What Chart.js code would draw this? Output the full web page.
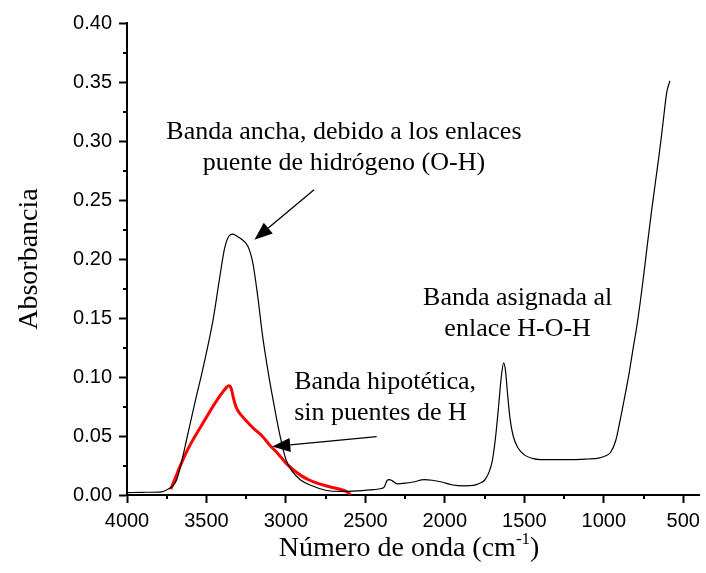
<!DOCTYPE html>
<html>
<head>
<meta charset="utf-8">
<script src="https://cdn.jsdelivr.net/npm/chart.js@4/dist/chart.umd.min.js"></script>
<style>
  html, body { margin: 0; padding: 0; background: #fff; }
  canvas { display: block; }
</style>
</head>
<body>
<canvas id="irChart" width="706" height="573"></canvas>
<script>
// IR spectrum (wavenumber in cm-1, absorbance)
const spectrumWn = [4000, 3900, 3780, 3740, 3710, 3690, 3660, 3620, 3573, 3521, 3459, 3417, 3386, 3358, 3335, 3310, 3281, 3240, 3208, 3177, 3146, 3104, 3084, 3040, 3000, 2960, 2910, 2840, 2750, 2650, 2550, 2450, 2400, 2380, 2365, 2350, 2330, 2300, 2250, 2200, 2130, 2080, 2020, 1950, 1880, 1820, 1780, 1750, 1720, 1700, 1680, 1660, 1645, 1630, 1618, 1605, 1590, 1570, 1540, 1500, 1450, 1400, 1300, 1200, 1100, 1040, 990, 958, 925, 896, 870, 844, 818, 792, 770, 750, 725, 698, 676, 656, 640, 625, 604, 584];
const spectrumAbs = [0.002, 0.0023, 0.0027, 0.005, 0.008, 0.012, 0.026, 0.050, 0.078, 0.108, 0.148, 0.184, 0.209, 0.2195, 0.221, 0.2195, 0.217, 0.211, 0.1966, 0.168, 0.134, 0.098, 0.083, 0.052, 0.030, 0.020, 0.013, 0.008, 0.004, 0.003, 0.0035, 0.0045, 0.0055, 0.007, 0.012, 0.013, 0.012, 0.0095, 0.010, 0.011, 0.013, 0.0125, 0.011, 0.0085, 0.0078, 0.0082, 0.010, 0.0125, 0.020, 0.030, 0.050, 0.078, 0.100, 0.112, 0.105, 0.085, 0.065, 0.050, 0.040, 0.034, 0.031, 0.030, 0.030, 0.030, 0.0305, 0.031, 0.033, 0.036, 0.046, 0.064, 0.082, 0.1005, 0.122, 0.143, 0.164, 0.185, 0.213, 0.242, 0.264, 0.284, 0.301, 0.318, 0.341, 0.351];

// hypothetical band without hydrogen bonds
const hypoWn = [3725, 3700, 3667, 3620, 3584, 3540, 3500, 3450, 3410, 3375, 3360, 3345, 3330, 3315, 3292, 3250, 3208, 3150, 3104, 3050, 3000, 2950, 2900, 2850, 2800, 2750, 2700, 2650, 2620, 2600, 2595];
const hypoAbs = [0.005, 0.013, 0.024, 0.038, 0.047, 0.057, 0.066, 0.077, 0.085, 0.091, 0.0925, 0.0905, 0.082, 0.075, 0.0695, 0.063, 0.057, 0.050, 0.0426, 0.035, 0.027, 0.021, 0.016, 0.0125, 0.0098, 0.0078, 0.0062, 0.0045, 0.003, 0.001, 0.0];

const xMajor = [4000, 3500, 3000, 2500, 2000, 1500, 1000, 500];
const xMinor = [3750, 3250, 2750, 2250, 1750, 1250, 750];
const yMajor = [0, 0.05, 0.10, 0.15, 0.20, 0.25, 0.30, 0.35, 0.40];
const yMinor = [0.025, 0.075, 0.125, 0.175, 0.225, 0.275, 0.325, 0.375];

const toPoints = (xs, ys) => xs.map((x, i) => ({ x: x, y: ys[i] }));

const tickFont = { family: 'Liberation Sans, Arial, sans-serif', size: 20 };
const serif = 'Liberation Serif, "Times New Roman", serif';

// notes and arrows, placed in data units
const notes = [
  { lines: ['Banda ancha, debido a los enlaces', 'puente de hidrógeno (O-H)'], x: 2635, y: 0.3079, align: 'center' },
  { lines: ['Banda asignada al', 'enlace H-O-H'], x: 1542, y: 0.1672, align: 'center' },
  { lines: ['Banda hipotética,', 'sin puentes de H'], x: 2948, y: 0.0952, align: 'left' }
];
const arrows = [
  { from: [2823, 0.2587], to: [3198, 0.2164] },
  { from: [2429, 0.0494], to: [3086, 0.0410] }
];

const extras = {
  id: 'extras',
  afterDraw(chart) {
    const { ctx, scales: { x, y }, chartArea } = chart;
    ctx.save();

    // minor ticks
    ctx.strokeStyle = '#000';
    ctx.lineWidth = 2;
    ctx.beginPath();
    xMinor.forEach(v => {
      const px = Math.round(x.getPixelForValue(v));
      ctx.moveTo(px, chartArea.bottom);
      ctx.lineTo(px, chartArea.bottom + 4);
    });
    yMinor.forEach(v => {
      const py = Math.round(y.getPixelForValue(v));
      ctx.moveTo(chartArea.left, py);
      ctx.lineTo(chartArea.left - 4, py);
    });
    ctx.stroke();

    // text notes
    ctx.fillStyle = '#000';
    ctx.font = '26px ' + serif;
    ctx.textBaseline = 'middle';
    notes.forEach(n => {
      ctx.textAlign = n.align;
      const px = x.getPixelForValue(n.x);
      const py = y.getPixelForValue(n.y);
      n.lines.forEach((t, i) => ctx.fillText(t, px, py + i * 31));
    });

    // arrows
    arrows.forEach(a => {
      const x0 = x.getPixelForValue(a.from[0]), y0 = y.getPixelForValue(a.from[1]);
      const x1 = x.getPixelForValue(a.to[0]), y1 = y.getPixelForValue(a.to[1]);
      const ang = Math.atan2(y1 - y0, x1 - x0);
      const len = 18, half = 7;
      const bx = x1 - len * Math.cos(ang), by = y1 - len * Math.sin(ang);
      ctx.lineWidth = 1.3;
      ctx.beginPath();
      ctx.moveTo(x0, y0);
      ctx.lineTo(bx, by);
      ctx.stroke();
      ctx.beginPath();
      ctx.moveTo(x1, y1);
      ctx.lineTo(bx + half * Math.sin(ang), by - half * Math.cos(ang));
      ctx.lineTo(bx - half * Math.sin(ang), by + half * Math.cos(ang));
      ctx.closePath();
      ctx.fill();
    });

    // x axis title with superscript
    const cx = (chartArea.left + chartArea.right) / 2 - 4;
    const ty = 549;
    const main = 'Número de onda (cm', sup = '-1', tail = ')';
    ctx.textAlign = 'left';
    ctx.font = '28px ' + serif;
    const wMain = ctx.measureText(main).width, wTail = ctx.measureText(tail).width;
    ctx.font = '17px ' + serif;
    const wSup = ctx.measureText(sup).width;
    let sx = cx - (wMain + wSup + wTail) / 2;
    ctx.font = '28px ' + serif;
    ctx.fillText(main, sx, ty);
    sx += wMain;
    ctx.font = '17px ' + serif;
    ctx.fillText(sup, sx, ty - 9);
    sx += wSup;
    ctx.font = '28px ' + serif;
    ctx.fillText(tail, sx, ty);

    ctx.restore();
  }
};

new Chart(document.getElementById('irChart').getContext('2d'), {
  type: 'scatter',
  data: {
    datasets: [
      {
        label: 'Espectro',
        data: toPoints(spectrumWn, spectrumAbs),
        showLine: true,
        borderColor: '#000',
        borderWidth: 1.2,
        pointRadius: 0,
        cubicInterpolationMode: 'monotone'
      },
      {
        label: 'Banda hipotética',
        data: toPoints(hypoWn, hypoAbs),
        showLine: true,
        borderColor: '#ff0000',
        borderWidth: 3,
        pointRadius: 0,
        cubicInterpolationMode: 'monotone'
      }
    ]
  },
  options: {
    responsive: false,
    animation: false,
    layout: { padding: { top: 23, right: 3 } },
    plugins: {
      legend: { display: false },
      tooltip: { enabled: false }
    },
    scales: {
      x: {
        type: 'linear',
        reverse: true,
        min: 400,
        max: 4000,
        afterBuildTicks: s => { s.ticks = xMajor.map(v => ({ value: v })); },
        afterFit: s => { s.height = 78; },
        ticks: {
          font: tickFont,
          color: '#000',
          padding: 6,
          maxRotation: 0,
          autoSkip: false,
          callback: v => String(v)
        },
        grid: { drawOnChartArea: false, tickLength: 8, tickWidth: 2, tickColor: '#000' },
        border: { color: '#000', width: 2 }
      },
      y: {
        min: 0,
        max: 0.4,
        afterBuildTicks: s => { s.ticks = yMajor.map(v => ({ value: v })); },
        afterFit: s => { s.width = 127; },
        ticks: {
          font: tickFont,
          color: '#000',
          padding: 7,
          autoSkip: false,
          callback: v => v.toFixed(2)
        },
        grid: { drawOnChartArea: false, tickLength: 8, tickWidth: 2, tickColor: '#000' },
        border: { color: '#000', width: 2 },
        title: {
          display: true,
          text: 'Absorbancia',
          color: '#000',
          font: { family: serif, size: 28, lineHeight: 1 },
          padding: { top: 16, bottom: 0 }
        }
      }
    }
  },
  plugins: [extras]
});
</script>
</body>
</html>
